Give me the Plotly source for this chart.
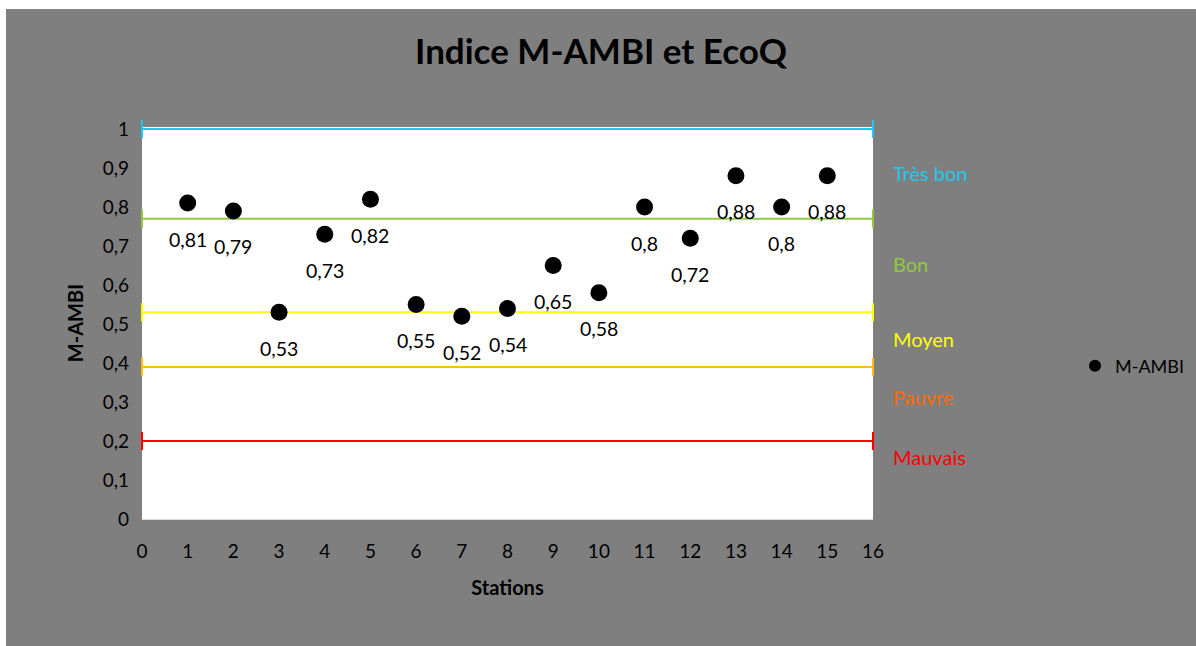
import plotly.graph_objects as go

# ---- data ----
stations = [1, 2, 3, 4, 5, 6, 7, 8, 9, 10, 11, 12, 13, 14, 15]
m_ambi = [0.81, 0.79, 0.53, 0.73, 0.82, 0.55, 0.52, 0.54, 0.65, 0.58, 0.80, 0.72, 0.88, 0.80, 0.88]

thresholds = [1.0, 0.77, 0.53, 0.39, 0.20]
threshold_colors = ["#1EC8F0", "#92C83E", "#FFFF00", "#FFC000", "#FF0000"]

zone_names = ["Très bon", "Bon", "Moyen", "Pauvre", "Mauvais"]
zone_label_y = [0.887, 0.654, 0.462, 0.313, 0.159]
zone_colors = ["#1EC8F0", "#92C83E", "#FFFF00", "#FF6A00", "#FF0000"]

x_range = [0, 16]
y_ticks = [0, 0.1, 0.2, 0.3, 0.4, 0.5, 0.6, 0.7, 0.8, 0.9, 1.0]

FONT = "Lato, Calibri, sans-serif"
GRAY = "#7F7F7F"

# page offset of the figure (the reference has a thin white strip top/left)
OX, OY = 6, 9
W, H = 1196 - OX, 646 - OY
PAD = 2  # extra px above y=1 so the top threshold line is not clipped
L, T = 142 - OX, 129 - OY - PAD
R = W - (873 - OX)
B = H - (519 - OY)
PW, PH = W - L - R, H - T - B
y_top = 1 + PAD / (PH - PAD)

fig = go.Figure()

# threshold lines with end caps
for val, col in zip(thresholds, threshold_colors):
    fig.add_trace(go.Scatter(
        x=x_range, y=[val, val], mode="lines+markers",
        line=dict(color=col, width=2),
        marker=dict(symbol="line-ns", size=13, line=dict(color=col, width=2)),
        showlegend=False, hoverinfo="skip", cliponaxis=False,
    ))

fig.add_trace(go.Scatter(
    x=stations, y=m_ambi, mode="markers", name="M-AMBI",
    marker=dict(color="black", size=17),
    cliponaxis=False,
))

# data labels
for xs, v in zip(stations, m_ambi):
    fig.add_annotation(
        x=xs, y=v, text=f"{v:g}".replace(".", ","), showarrow=False,
        yshift=-36, font=dict(family=FONT, size=19.5, color="black"),
    )

# zone labels
for name, yv, col in zip(zone_names, zone_label_y, zone_colors):
    fig.add_annotation(
        xref="paper", yref="y", x=(891 - 142) / PW, y=yv, text=name,
        showarrow=False, xanchor="left", yanchor="middle",
        font=dict(family=FONT, size=20, color=col),
    )

fig.update_layout(
    width=W, height=H,
    margin=dict(l=L, r=R, t=T, b=B, autoexpand=False),
    paper_bgcolor=GRAY, plot_bgcolor="white",
    separators=", ",
    font=dict(family=FONT, size=19, color="black"),
    title=dict(text="<b>Indice M-AMBI et EcoQ</b>", x=0.5, xref="container",
               xanchor="center", y=(H - (52 - OY)) / H, yref="container", yanchor="middle",
               font=dict(family=FONT, size=35, color="black")),
    showlegend=True,
    legend=dict(x=(1075 - 142) / PW, y=(519 - 366) / PH, xanchor="left", yanchor="middle",
                bgcolor="rgba(0,0,0,0)", font=dict(family=FONT, size=18, color="black"),
                itemsizing="constant"),
    xaxis=dict(range=x_range, tickmode="linear", tick0=0, dtick=1,
               showgrid=False, zeroline=False, showline=True, linecolor="#D9D9D9",
               linewidth=1, ticks="", ticklabelstandoff=15,
               tickfont=dict(family=FONT, size=19, color="black"),
               title=dict(text="<b>Stations</b>", standoff=20,
                          font=dict(family=FONT, size=20, color="black"))),
    yaxis=dict(range=[0, y_top], tickvals=y_ticks, showgrid=False, zeroline=False,
               showline=False, ticks="", ticklabelstandoff=12,
               tickfont=dict(family=FONT, size=19, color="black"),
               title=dict(text="<b>M-AMBI</b>", standoff=13,
                          font=dict(family=FONT, size=20, color="black"))),
)

fig.write_html("out.html", post_script=f"document.body.style.margin='{OY}px 0 0 {OX}px';")
